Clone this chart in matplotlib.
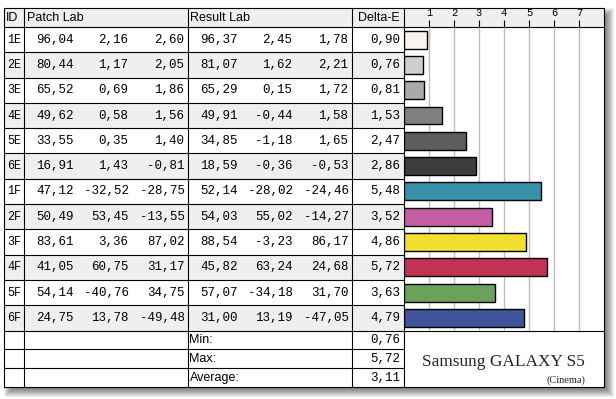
import matplotlib
matplotlib.use("Agg")
import matplotlib.pyplot as plt
from matplotlib.patches import Rectangle
import numpy as np

# ---------------- data ----------------
ids = ["1E", "2E", "3E", "4E", "5E", "6E", "1F", "2F", "3F", "4F", "5F", "6F"]
patch_L = [96.04, 80.44, 65.52, 49.62, 33.55, 16.91, 47.12, 50.49, 83.61, 41.05, 54.14, 24.75]
patch_a = [2.16, 1.17, 0.69, 0.58, 0.35, 1.43, -32.52, 53.45, 3.36, 60.75, -40.76, 13.78]
patch_b = [2.60, 2.05, 1.86, 1.56, 1.40, -0.81, -28.75, -13.55, 87.02, 31.17, 34.75, -49.48]
result_L = [96.37, 81.07, 65.29, 49.91, 34.85, 18.59, 52.14, 54.03, 88.54, 45.82, 57.07, 31.00]
result_a = [2.45, 1.62, 0.15, -0.44, -1.18, -0.36, -28.02, 55.02, -3.23, 63.24, -34.18, 13.19]
result_b = [1.78, 2.21, 1.72, 1.58, 1.65, -0.53, -24.46, -14.27, 86.17, 24.68, 31.70, -47.05]
delta_e = [0.90, 0.76, 0.81, 1.53, 2.47, 2.86, 5.48, 3.52, 4.86, 5.72, 3.63, 4.79]
bar_colors = ["#f8f4f2", "#d0cecc", "#a9a9a9", "#808080", "#5e5e5e", "#3c3c3c",
              "#3890aa", "#c55fa5", "#f2e030", "#c23355", "#6aa25c", "#3f5398"]
x_ticks = [1, 2, 3, 4, 5, 6, 7]
headers = ["ID", "Patch Lab", "Result Lab", "Delta-E"]
summary_labels = ["Min:", "Max:", "Average:"]
title_main = "Samsung GALAXY S5"
title_sub = "(Cinema)"


def fmt(v):
    return f"{v:.2f}".replace(".", ",")


# ---------------- layout (pixels) ----------------
W, H = 616, 399
X0, X1 = 4, 604
COL_ID, COL_PATCH, COL_RES, COL_DE, COL_CH = 4, 24, 188, 352, 404
Y0 = 8
Y_HDR = 27
Y_ROWS_END = 330.5
Y1 = 387
n = len(ids)
rh = (Y_ROWS_END - Y_HDR) / n
sum_rows = [Y_ROWS_END, 349, 368, Y1]

MONO = "Liberation Mono"
SANS = "Liberation Sans"
SERIF = "Liberation Serif"
LW = 0.8

fig = plt.figure(figsize=(W / 100, H / 100), dpi=100)
fig.patch.set_facecolor("white")
bg = fig.add_axes([0, 0, 1, 1])
bg.set_xlim(0, W)
bg.set_ylim(H, 0)
bg.axis("off")

# shadow
for s in range(-5, 6):
    bg.add_patch(Rectangle((X0 + 5 - s, Y0 + 5 - s), (X1 - X0) + 2 * s, (Y1 - Y0) + 2 * s,
                           facecolor="black", edgecolor="none", alpha=0.065, zorder=0))
bg.add_patch(Rectangle((X0, Y0), X1 - X0, Y1 - Y0, facecolor="white", edgecolor="none", zorder=0.5))

# header background
bg.add_patch(Rectangle((X0, Y0), X1 - X0, Y_HDR - Y0, facecolor="#efefef", edgecolor="none", zorder=1))
# alternating row shading (table part only)
for i in range(n):
    if i % 2 == 1:
        y = Y_HDR + i * rh
        bg.add_patch(Rectangle((X0, y), COL_CH - X0, rh, facecolor="#efefef", edgecolor="none", zorder=1))

# horizontal lines
for i in range(1, n):
    y = Y_HDR + i * rh
    bg.plot([X0, COL_CH], [y, y], color="black", lw=LW, zorder=3)
for y in sum_rows[1:-1]:
    bg.plot([X0, COL_CH], [y, y], color="black", lw=LW, zorder=3)
bg.plot([X0, X1], [Y_HDR, Y_HDR], color="black", lw=LW, zorder=3)
bg.plot([X0, X1], [Y_ROWS_END, Y_ROWS_END], color="black", lw=LW, zorder=3)
# vertical lines
for x in [COL_PATCH, COL_RES, COL_DE, COL_CH]:
    bg.plot([x, x], [Y0, Y1], color="black", lw=LW, zorder=3)
bg.add_patch(Rectangle((X0, Y0), X1 - X0, Y1 - Y0, facecolor="none", edgecolor="black", lw=LW, zorder=4))

# header text
hy = (Y0 + Y_HDR) / 2 + 0.5
bg.text(6, hy, headers[0], ha="left", va="center", fontsize=9, family=SANS, zorder=5)
bg.text(27, hy, headers[1], ha="left", va="center", fontsize=9, family=SANS, zorder=5)
bg.text(190, hy, headers[2], ha="left", va="center", fontsize=9, family=SANS, zorder=5)
bg.text((COL_DE + COL_CH) / 2 + 1, hy, headers[3], ha="center", va="center", fontsize=9, family=SANS, zorder=5)

# data rows
patch_x = [73.5, 128.5, 184.5]
res_x = [237.5, 292.5, 348.5]
de_x = 400.5
for i in range(n):
    yc = Y_HDR + (i + 0.5) * rh
    bg.text(14, yc, ids[i], ha="center", va="center", fontsize=8.5, family=MONO, zorder=5)
    for x, v in zip(patch_x, [patch_L[i], patch_a[i], patch_b[i]]):
        bg.text(x, yc, fmt(v), ha="right", va="center", fontsize=9, family=MONO, zorder=5)
    for x, v in zip(res_x, [result_L[i], result_a[i], result_b[i]]):
        bg.text(x, yc, fmt(v), ha="right", va="center", fontsize=9, family=MONO, zorder=5)
    bg.text(de_x, yc, fmt(delta_e[i]), ha="right", va="center", fontsize=9, family=MONO, zorder=5)

# summary rows
summary_vals = [min(delta_e), max(delta_e), float(np.mean(delta_e))]
for k in range(3):
    yc = (sum_rows[k] + sum_rows[k + 1]) / 2 + 0.5
    bg.text(189.5, yc, summary_labels[k], ha="left", va="center", fontsize=9, family=SANS, zorder=5)
    bg.text(de_x, yc, fmt(summary_vals[k]), ha="right", va="center", fontsize=9, family=MONO, zorder=5)

# title text
bg.text(585, 366, title_main, ha="right", va="baseline", fontsize=12.4, family=SERIF, color="#222222", zorder=5)
bg.text(585, 383, title_sub, ha="right", va="baseline", fontsize=7.5, family=SERIF, color="#222222", zorder=5)

# ---------------- bar chart ----------------
ax = fig.add_axes([COL_CH / W, (H - Y_ROWS_END) / H, (X1 - COL_CH) / W, (Y_ROWS_END - Y_HDR) / H])
ax.patch.set_alpha(0)
ypos = np.arange(n)
ax.barh(ypos, delta_e, height=0.71, color=bar_colors, edgecolor="black", linewidth=1.0, zorder=3)
ax.set_xlim(0, 8)
ax.set_ylim(n - 0.5, -0.5)
ax.set_yticks([])
ax.set_xticks(x_ticks)
ax.set_xticklabels([str(t) for t in x_ticks], family=MONO, fontsize=7.5)
ax.xaxis.tick_top()
ax.tick_params(axis="x", direction="out", length=5, width=0.8, pad=1.5, colors="black")
ax.grid(axis="x", color="#bdbdbd", lw=1.0, zorder=0)
ax.set_axisbelow(True)
for sp in ax.spines.values():
    sp.set_visible(False)

fig.savefig("out.png", dpi=100, facecolor="white")
